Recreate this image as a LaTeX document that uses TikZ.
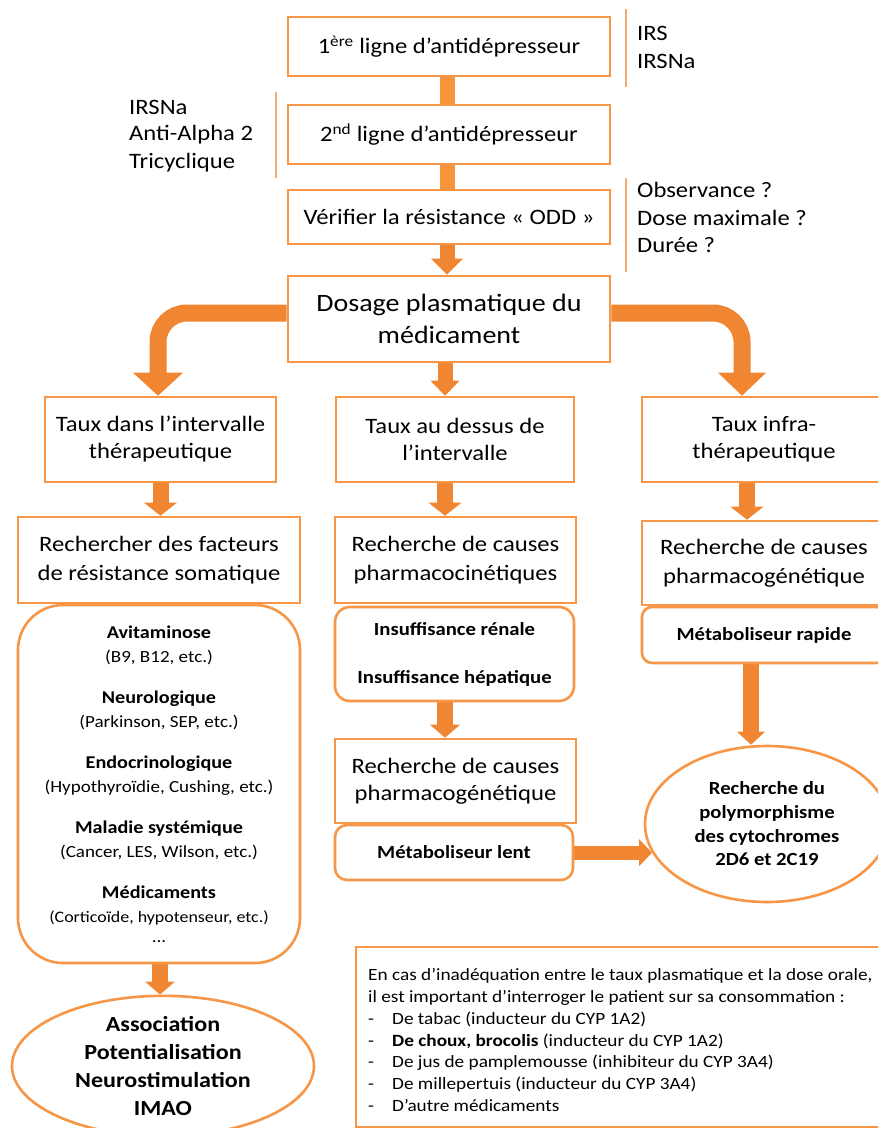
\documentclass[tikz,border=0pt]{standalone}
\usepackage{fontspec}
\setmainfont{Carlito}[FakeStretch=1.12]
\usetikzlibrary{shapes.geometric,backgrounds}
\definecolor{obord}{HTML}{F79646}
\definecolor{oline}{HTML}{F8A96C}
\definecolor{oarrow}{HTML}{F08632}
\definecolor{obar}{HTML}{F7943C}
\newcommand\fs[2]{\fontsize{#1}{#2}\selectfont}
% thick vertical arrow: #1 source coord, #2 tip coord, #3 half shaft, #4 half head, #5 head length
\newcommand\vtharrow[5]{%
  \fill[oarrow] ([xshift=-#3 pt]#1) rectangle ([xshift=#3 pt,yshift=#5 pt - 1pt]#2);
  \fill[oarrow] (#2) -- ++(-#4,-#5) -- ++(2*#4,0) -- cycle;}
\begin{document}
\begin{tikzpicture}[x=1pt,y=-1pt,
  box/.style={draw=obord,line width=2.6pt,fill=white,align=center,inner sep=0pt,text=black},
  side/.style={anchor=west,inner sep=0pt,font=\fs{22}{27}},
  sideline/.style={draw=oline,line width=2pt},
  curvearrow/.style={draw=oarrow,line width=17pt,rounded corners=29pt}]
\useasboundingbox (0,0) rectangle (878,1128);
\clip (0,0) rectangle (878,1128);

% main column
\node[box,minimum width=322pt,minimum height=59pt,font=\fs{22}{27}] (b1) at (449,46.5) {1\textsuperscript{ère} ligne d’antidépresseur};
\node[box,minimum width=322pt,minimum height=59pt,font=\fs{22}{27}] (b2) at (449,134.5) {2\textsuperscript{nd} ligne d’antidépresseur};
\node[box,minimum width=322pt,minimum height=54pt,font=\fs{22}{27}] (b3) at (449,217) {Vérifier la résistance «~ODD~»};
\node[box,minimum width=322pt,minimum height=86pt,font=\fs{25}{32}] (b4) at (449,319) {Dosage plasmatique du\\médicament};

% side notes
\draw[sideline] (626,9) -- (626,87);
\draw[sideline] (276,92) -- (276,178);
\draw[sideline] (626,178) -- (626,272);
\node[side] (irs) at (637,33) {IRS};
\node[side] (irsna) at (637,61) {IRSNa};
\node[side] (l1) at (129,107) {IRSNa};
\node[side] (l2) at (129,135) {Anti-Alpha 2};
\node[side] (l3) at (129,163) {Tricyclique};
\node[side] (o1) at (637,190) {Observance ?};
\node[side] (o2) at (637,218) {Dose maximale ?};
\node[side] (o3) at (637,245) {Durée ?};

% row 2
\node[box,minimum width=231pt,minimum height=85pt,font=\fs{22}{27}] (t1) at (160.5,439.5) {Taux dans l’intervalle\\thérapeutique};
\node[box,minimum width=238pt,minimum height=85pt,font=\fs{22}{27}] (t2) at (455,439.5) {Taux au dessus de\\l’intervalle};
\node[box,minimum width=244pt,minimum height=85pt,font=\fs{22}{27}] (t3) at (764,439.5) {Taux infra-\\thérapeutique};

% row 3
\node[box,minimum width=282pt,minimum height=86pt,font=\fs{22}{29}] (r1) at (159,560) {Rechercher des facteurs\\de résistance somatique};
\node[box,minimum width=241pt,minimum height=86pt,font=\fs{22}{29}] (r2) at (455.5,560) {Recherche de causes\\pharmacocinétiques};
\node[box,minimum width=244pt,minimum height=84pt,font=\fs{22}{29}] (r3) at (764,563) {Recherche de causes\\pharmacogénétique};

% rounded boxes
\node[box,rounded corners=45pt,minimum width=282pt,minimum height=358pt,font=\fs{17}{24}] (som) at (159,784)
 {\textbf{\fs{18}{24}Avitaminose}\\(B9, B12, etc.)\\[17pt]
  \textbf{\fs{18}{24}Neurologique}\\(Parkinson, SEP, etc.)\\[17pt]
  \textbf{\fs{18}{24}Endocrinologique}\\(Hypothyroïdie, Cushing, etc.)\\[17pt]
  \textbf{\fs{18}{24}Maladie systémique}\\(Cancer, LES, Wilson, etc.)\\[17pt]
  \textbf{\fs{18}{24}Médicaments}\\{\fs{16}{24}(Corticoïde, hypotenseur, etc.)}\\[-4pt]
  ...};
\node[box,rounded corners=15pt,minimum width=239pt,minimum height=94pt,font=\bfseries\fs{18.5}{24}] (insuf) at (454.5,654) {Insuffisance rénale\\[24pt]Insuffisance hépatique};
\node[box,rounded corners=10pt,minimum width=244pt,minimum height=56pt,font=\bfseries\fs{18.5}{24}] (rapide) at (764,635) {Métaboliseur rapide};
\node[box,minimum width=241pt,minimum height=84pt,font=\fs{22}{27}] (pg2) at (455.5,781) {Recherche de causes\\pharmacogénétique};
\node[box,rounded corners=12pt,minimum width=238pt,minimum height=55pt,font=\bfseries\fs{18.5}{24}] (lent) at (454,852.5) {Métaboliseur lent};

% ellipses
\node[box,ellipse,minimum width=244pt,minimum height=156pt,font=\bfseries\fs{18.5}{23.7}] (poly) at (767,824) {Recherche du\\polymorphisme\\des cytochromes\\2D6 et 2C19};
\node[box,ellipse,minimum width=302pt,minimum height=126pt,font=\bfseries\fs{21.5}{28}] (assoc) at (163,1066) {Association\\Potentialisation\\Neurostimulation\\IMAO};

% note box
\node[draw=obord,line width=2.6pt,fill=white,minimum width=530pt,minimum height=180pt,inner sep=0pt] (note) at (621,1037) {};
\node[anchor=west,align=left,inner sep=0pt,font=\fs{17.2}{21.7}] (notetxt) at (368,1040)
 {En cas d’inadéquation entre le taux plasmatique et la dose orale,\\
  il est important d’interroger le patient sur sa consommation :\\
  \makebox[24pt][l]{-}De tabac (inducteur du CYP 1A2)\\
  \makebox[24pt][l]{-}\textbf{De choux, brocolis} (inducteur du CYP 1A2)\\
  \makebox[24pt][l]{-}De jus de pamplemousse (inhibiteur du CYP 3A4)\\
  \makebox[24pt][l]{-}De millepertuis (inducteur du CYP 3A4)\\
  \makebox[24pt][l]{-}D’autre médicaments};

% connectors
\begin{scope}[on background layer]
\fill[white] (0,0) rectangle (878,1128);
\fill[obar] ([xshift=-9pt]b1.south) rectangle ([xshift=6pt]b2.north);
\fill[obar] ([xshift=-9pt]b2.south) rectangle ([xshift=6pt]b3.north);

\coordinate (aAs) at ([xshift=-2pt]b3.south);   \coordinate (aAt) at (aAs |- b4.north);
\vtharrow{aAs}{aAt}{7.5}{16}{16}
\coordinate (aBs) at ([xshift=-4pt]b4.south);   \coordinate (aBt) at (aBs |- t2.north);
\vtharrow{aBs}{aBt}{7.5}{14.5}{15}
\coordinate (aCs) at (t1.south);                \coordinate (aCt) at (aCs |- r1.north);
\vtharrow{aCs}{aCt}{8}{16.5}{13}
\coordinate (aDs) at ([xshift=-10pt]t2.south);  \coordinate (aDt) at (aDs |- r2.north);
\vtharrow{aDs}{aDt}{8}{16.5}{13}
\coordinate (aEs) at ([xshift=-17pt]t3.south);  \coordinate (aEt) at (aEs |- r3.north);
\vtharrow{aEs}{aEt}{8}{16.5}{13}
\coordinate (aFs) at ([xshift=-9.5pt]insuf.south); \coordinate (aFt) at (aFs |- pg2.north);
\vtharrow{aFs}{aFt}{8}{15}{13}
\coordinate (aGs) at ([xshift=-13pt]rapide.south); \coordinate (aGt) at (aGs |- poly.north);
\vtharrow{aGs}{aGt}{8}{14}{13}
\coordinate (aHs) at ([xshift=1pt]som.south);   \coordinate (aHt) at (aHs |- assoc.north);
\vtharrow{aHs}{aHt}{8}{15}{13}

% horizontal arrow lent -> poly
\fill[oarrow] ([yshift=7pt]lent.east) rectangle ([xshift=-12pt,yshift=-7pt]poly.194);
\fill[oarrow] (poly.194) -- ++(-13,-13.5) -- ++(0,27) -- cycle;

% curved arrows
\draw[curvearrow] ([yshift=6pt]b4.west) -| ([xshift=-2.5pt,yshift=22pt]t1.north);
\fill[oarrow] ([xshift=-2.5pt]t1.north) -- ++(-25,-23) -- ++(50,0) -- cycle;
\draw[curvearrow] ([yshift=6pt]b4.east) -| ([xshift=-22pt,yshift=22pt]t3.north);
\fill[oarrow] ([xshift=-22pt]t3.north) -- ++(-24,-23) -- ++(48,0) -- cycle;
\end{scope}
\end{tikzpicture}
\end{document}
